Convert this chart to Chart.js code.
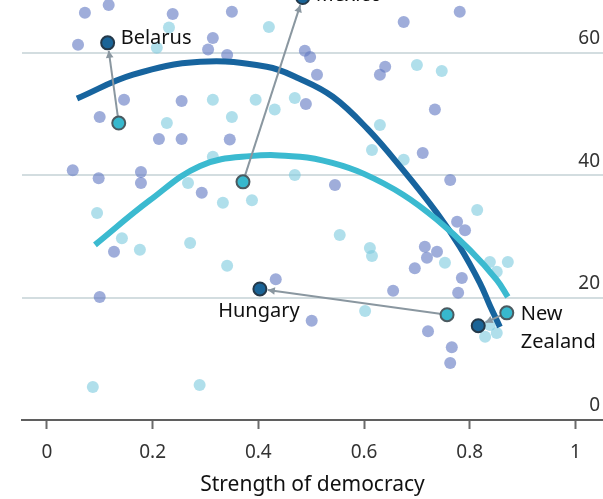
<!DOCTYPE html>
<html>
<head>
<meta charset="utf-8">
<script src="https://cdn.jsdelivr.net/npm/chart.js@4/dist/chart.umd.min.js"></script>
<style>
  html, body { margin: 0; padding: 0; background: #fff; }
  #wrap { width: 603px; height: 499px; }
</style>
</head>
<body>
<div id="wrap"><canvas id="scatter" width="603" height="499"></canvas></div>
<script>
// --- datos ---
const xTicks = [0, 0.2, 0.4, 0.6, 0.8, 1];
const yTicks = [0, 20, 40, 60];

// puntos de fondo, grupo azul
const blueX = [0.072, 0.117, 0.238, 0.059, 0.314, 0.305, 0.146, 0.100, 0.255, 0.212, 0.255, 0.049,
  0.098, 0.178, 0.178, 0.293, 0.350, 0.341, 0.498, 0.511, 0.640, 0.630, 0.490, 0.346, 0.545, 0.675,
  0.781, 0.734, 0.711, 0.763, 0.127, 0.100, 0.433, 0.655, 0.501, 0.776, 0.791, 0.715, 0.738, 0.719,
  0.696, 0.785, 0.778, 0.721, 0.766, 0.763, 0.488];
const blueY = [66.5, 67.8, 66.3, 61.3, 62.4, 60.5, 52.3, 49.5, 52.1, 45.9, 45.9, 40.8,
  39.5, 40.5, 38.7, 37.1, 66.7, 59.6, 59.3, 56.4, 57.7, 56.4, 51.6, 45.8, 38.4, 65.0,
  66.7, 50.7, 43.6, 39.2, 27.5, 20.1, 23.0, 21.1, 16.2, 32.4, 31.0, 28.3, 27.5, 26.5,
  24.8, 23.2, 20.8, 14.5, 11.9, 9.3, 60.3];

// puntos de fondo, grupo turquesa
const tealX = [0.231, 0.208, 0.227, 0.314, 0.314, 0.267, 0.420, 0.395, 0.350, 0.431, 0.469, 0.630,
  0.615, 0.469, 0.333, 0.388, 0.700, 0.747, 0.675, 0.814, 0.095, 0.142, 0.176, 0.271, 0.087, 0.289,
  0.554, 0.611, 0.615, 0.341, 0.602, 0.753, 0.838, 0.872, 0.851, 0.838, 0.851, 0.829];
const tealY = [64.1, 60.8, 48.5, 52.3, 43.0, 38.7, 64.2, 52.3, 49.5, 50.7, 52.6, 48.2,
  44.1, 40.0, 35.5, 35.9, 58.0, 57.0, 42.5, 34.3, 33.8, 29.7, 27.8, 28.9, 5.4, 5.7,
  30.2, 28.1, 26.8, 25.2, 17.8, 25.7, 25.8, 25.8, 24.2, 15.5, 14.2, 13.6];

// curvas de tendencia
const trendBlueX = [0.057, 0.163, 0.29, 0.416, 0.479, 0.541, 0.607, 0.674, 0.738, 0.781, 0.819, 0.838, 0.857];
const trendBlueY = [52.5, 56.4, 58.5, 57.7, 55.7, 52.8, 47.5, 40.8, 33.8, 28.3, 22.4, 18.7, 15.2];
const trendTealX = [0.091, 0.195, 0.29, 0.384, 0.479, 0.54, 0.60, 0.674, 0.738, 0.800, 0.851, 0.872];
const trendTealY = [28.6, 35.9, 41.5, 43.1, 43.0, 42.0, 40.2, 36.8, 32.7, 27.8, 22.9, 20.1];

// países destacados: desde (turquesa) -> hasta (azul)
const countries = ['Belarus', 'Mexico', 'Hungary', 'New Zealand'];
const fromX = [0.136, 0.371, 0.757, 0.870];
const fromY = [48.5, 38.9, 17.2, 17.5];
const toX = [0.115, 0.484, 0.403, 0.816];
const toY = [61.6, 69.0, 21.4, 15.4];

const FONT = '"Noto Sans", "Open Sans", sans-serif';
const pts = (xs, ys) => xs.map((x, i) => ({ x: x, y: ys[i] }));

// --- flechas y nombres de países ---
const annotations = {
    id: 'annotations',
    afterDatasetDraw(chart, args) {
        if (args.index !== 2) return; // después de las curvas, antes de los puntos destacados
        const { ctx, scales: { x, y } } = chart;
        ctx.save();
        ctx.strokeStyle = '#8a97a0';
        ctx.fillStyle = '#8a97a0';
        ctx.lineWidth = 2;
        countries.forEach((c, i) => {
            const x0 = x.getPixelForValue(fromX[i]), y0 = y.getPixelForValue(fromY[i]);
            const x1 = x.getPixelForValue(toX[i]), y1 = y.getPixelForValue(toY[i]);
            const ang = Math.atan2(y1 - y0, x1 - x0);
            const ex = x1 - Math.cos(ang) * 8, ey = y1 - Math.sin(ang) * 8;
            ctx.beginPath();
            ctx.moveTo(x0, y0);
            ctx.lineTo(ex, ey);
            ctx.stroke();
            ctx.beginPath();
            ctx.moveTo(ex, ey);
            ctx.lineTo(ex - Math.cos(ang - 0.5) * 8, ey - Math.sin(ang - 0.5) * 8);
            ctx.lineTo(ex - Math.cos(ang + 0.5) * 8, ey - Math.sin(ang + 0.5) * 8);
            ctx.closePath();
            ctx.fill();
        });
        ctx.restore();
    },
    afterDraw(chart) {
        const { ctx, scales: { x, y } } = chart;
        ctx.save();
        ctx.fillStyle = '#111';
        ctx.font = '20px ' + FONT;
        ctx.textBaseline = 'middle';
        ctx.textAlign = 'left';
        // Belarus y Mexico a la derecha del punto final
        const dy = [-5, -2];
        [0, 1].forEach(i => {
            ctx.fillText(countries[i], x.getPixelForValue(toX[i]) + 13, y.getPixelForValue(toY[i]) + dy[i]);
        });
        // Hungary debajo del punto final
        ctx.textAlign = 'center';
        ctx.textBaseline = 'top';
        ctx.fillText(countries[2], x.getPixelForValue(toX[2]) - 1, y.getPixelForValue(toY[2]) + 12);
        // New Zealand en dos líneas junto al punto inicial
        ctx.textAlign = 'left';
        ctx.textBaseline = 'middle';
        const nx = x.getPixelForValue(fromX[3]) + 14, ny = y.getPixelForValue(fromY[3]);
        const parts = countries[3].split(' ');
        ctx.fillText(parts[0], nx, ny + 1);
        ctx.fillText(parts[1], nx, ny + 29);
        ctx.restore();
    }
};

const ctx = document.getElementById('scatter').getContext('2d');
const chart = new Chart(ctx, {
    type: 'scatter',
    data: {
        datasets: [
            {
                label: 'hasta',
                data: pts(toX, toY),
                backgroundColor: '#1a6497',
                borderColor: '#24394a',
                borderWidth: 2,
                pointRadius: 6.5,
                clip: false
            },
            {
                label: 'desde',
                data: pts(fromX, fromY),
                backgroundColor: '#37b8cd',
                borderColor: '#4b5a60',
                borderWidth: 2,
                pointRadius: 6.5,
                clip: false
            },
            {
                type: 'line',
                label: 'tendencia turquesa',
                data: pts(trendTealX, trendTealY),
                borderColor: '#3bbad0',
                borderWidth: 6,
                borderCapStyle: 'butt',
                pointRadius: 0,
                fill: false,
                tension: 0.4
            },
            {
                type: 'line',
                label: 'tendencia azul',
                data: pts(trendBlueX, trendBlueY),
                borderColor: '#17649e',
                borderWidth: 6,
                borderCapStyle: 'butt',
                pointRadius: 0,
                fill: false,
                tension: 0.4
            },
            {
                label: 'azul',
                data: pts(blueX, blueY),
                backgroundColor: 'rgba(100,122,196,0.62)',
                borderWidth: 0,
                pointRadius: 6
            },
            {
                label: 'turquesa',
                data: pts(tealX, tealY),
                backgroundColor: 'rgba(128,204,222,0.62)',
                borderWidth: 0,
                pointRadius: 6
            }
        ]
    },
    options: {
        responsive: false,
        animation: false,
        layout: { autoPadding: false, padding: { left: 22, right: 0, top: 0, bottom: 0 } },
        plugins: {
            legend: { display: false },
            tooltip: { enabled: false }
        },
        scales: {
            x: {
                type: 'linear',
                min: -0.047,
                max: 1.052,
                afterBuildTicks: s => { s.ticks = xTicks.map(v => ({ value: v })); },
                afterFit: s => {
                    s.height = 79;
                    s.paddingLeft = 0;
                    s.paddingRight = 0;
                },
                grid: {
                    drawOnChartArea: false,
                    drawTicks: true,
                    tickLength: 9,
                    tickWidth: 2,
                    tickColor: '#6b6b6b'
                },
                border: { display: true, color: '#5f5f5f', width: 2 },
                ticks: {
                    color: '#333',
                    padding: 12,
                    font: { family: FONT, size: 19 },
                    callback: v => String(+v.toFixed(1))
                },
                title: {
                    display: true,
                    text: 'Strength of democracy',
                    color: '#111',
                    font: { family: FONT, size: 21 },
                    padding: { top: 0, bottom: 1 }
                }
            },
            y: {
                type: 'linear',
                position: 'right',
                min: 0,
                max: 68.6,
                afterBuildTicks: s => { s.ticks = yTicks.map(v => ({ value: v })); },
                afterFit: s => {
                    s.width = 0;
                    s.paddingTop = 0;
                    s.paddingBottom = 0;
                },
                grid: {
                    color: '#d3dde0',
                    lineWidth: 2,
                    drawTicks: false
                },
                border: { display: false },
                ticks: {
                    mirror: true,
                    padding: -3,
                    labelOffset: -14,
                    color: '#333',
                    font: { family: FONT, size: 19 }
                }
            }
        }
    },
    plugins: [annotations]
});
</script>
</body>
</html>
